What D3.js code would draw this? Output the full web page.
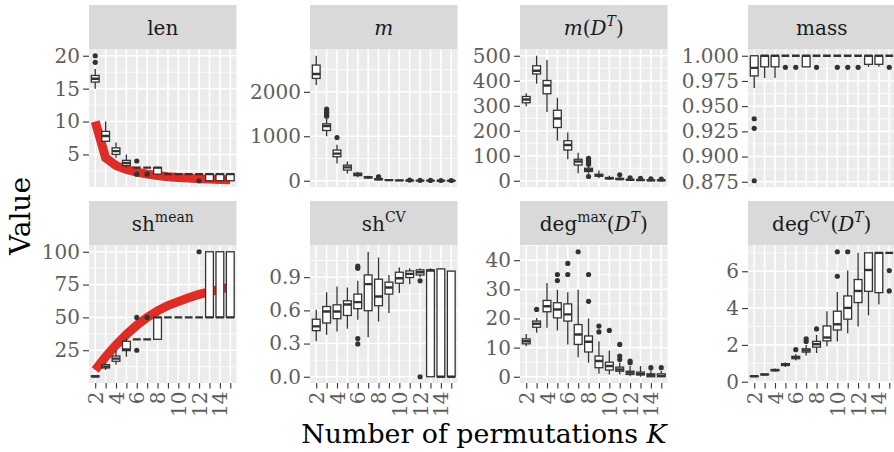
<!DOCTYPE html>
<html>
<head>
<meta charset="utf-8">
<script src="https://cdn.jsdelivr.net/npm/d3@7/dist/d3.min.js"></script>
<style>
body { margin:0; background:#fff; }
svg text { font-family: "DejaVu Serif", serif; }
</style>
</head>
<body>
<div id="chart"></div>
<script>
// categories : number of permutations K
var ks = [2,3,4,5,6,7,8,9,10,11,12,13,14,15];
var kLabels = ["2","","4","","6","","8","","10","","12","","14",""];

// boxes : [lower whisker, q1, median, q3, upper whisker] for each K
var lenBox = [[15,16,16.5,17,18],[7,7,7.8,8.5,10],[4.5,5,5.5,6,6.8],[3,3.3,3.7,4.1,5],[3,3,3,3,3],[3,3,3,3,3],[2,2,3,3,3],
	[2,2,2,2,2],[2,2,2,2,2],[2,2,2,2,2],[2,2,2,2,2],[1,1,2,2,2],[1,1,2,2,2],[1,1,2,2,2]];
var lenOut = [[2,19],[2,20],[6,4],[6,2],[7,2],[12,1]];
var lenTheory = [10,4.5,3.3,2.7,2.3,2.0,1.8,1.6,1.5,1.4,1.3,1.25,1.2,1.15];

var mBox = [[2150,2300,2400,2600,2810],[1000,1130,1230,1280,1390],[390,540,610,690,810],[165,240,300,350,430],[80,115,140,170,200],
	[45,65,75,90,110],[15,25,35,45,60],[8,12,15,18,25],[4,6,8,10,14],[2,4,5,6,9],[1,2,3,4,6],[1,1,2,3,4],[0,1,1,2,3],[0,1,1,2,3]];
var mOut = [[3,1450],[3,1480],[3,1510],[3,1540],[3,1580],[3,1610],[4,970],[8,70],[8,80],[8,90],[11,15],[12,10],[13,8],[14,6],[15,6]];

var mDTBox = [[298,312,325,337,350],[388,427,440,460,500],[275,348,381,401,483],[160,213,249,282,332],[86,123,143,160,193],
	[30,63,77,86,112],[28,37,42,50,60],[10,18,22,26,41],[4,8,10,13,20],[2,5,7,9,14],[1,3,4,5,8],[1,2,3,4,6],[0,1,2,3,5],[0,1,2,3,4]];
var mDTOut = [[8,17],[8,66],[8,74],[8,82],[8,90],[11,24],[12,12],[13,10],[14,8],[15,7]];

var massBox = [[0.968,0.980,0.988,1,1],[0.978,0.989,1,1,1],[0.978,0.989,1,1,1],[1,1,1,1,1],[1,1,1,1,1],[0.989,0.989,1,1,1],[1,1,1,1,1],
	[1,1,1,1,1],[1,1,1,1,1],[1,1,1,1,1],[1,1,1,1,1],[0.989,0.9915,1,1,1],[0.989,0.9915,1,1,1],[1,1,1,1,1]];
var massOut = [[2,0.9375],[2,0.928],[2,0.876],[5,0.9885],[6,0.9885],[8,0.9885],[10,0.9885],[11,0.9885],[12,0.9885],[15,0.9885]];

var shMeanBox = [[4.8,5,5,5.5,6],[10,11.5,12.5,14,15],[14,16.6,18.6,20.6,25],[20,24.7,25.5,31.8,33.8],[33.3,33.3,33.3,33.3,33.3],
	[33.3,33.3,33.3,33.3,33.3],[33.3,33.3,50,50,50],[50,50,50,50,50],[50,50,50,50,50],[50,50,50,50,50],[50,50,50,50,50],
	[50,50,50,100,100],[50,50,50,100,100],[50,50,50,100,100]];
var shMeanOut = [[6,50],[6,25],[7,50],[12,100]];
var shMeanTheory = [10,20,29,37,44,50,55,59,62,65,67.5,69.5,71.5,73];

var shCVBox = [[0.32,0.417,0.455,0.52,0.605],[0.38,0.486,0.59,0.635,0.765],[0.41,0.525,0.59,0.65,0.815],[0.435,0.554,0.653,0.687,0.807],
	[0.516,0.615,0.675,0.747,0.867],[0.357,0.597,0.837,0.92,1.13],[0.5,0.642,0.726,0.882,1.077],[0.576,0.747,0.807,0.855,0.92],
	[0.756,0.846,0.89,0.945,0.987],[0.837,0.897,0.93,0.957,0.98],[0.9,0.92,0.945,0.966,0.98],[0,0,0.96,0.965,0.98],
	[0,0,0,0.975,0.98],[0,0,0,0.955,0.96]];
var shCVOut = [[6,1.0],[6,0.98],[6,0.345],[6,0.297],[12,0.867],[12,0]];

var degMaxBox = [[10.5,11.3,12.2,13,14.7],[15.1,17,18.2,19.1,20.2],[16.8,22.3,24.2,26.2,32.2],[15.9,20.2,23.1,25.4,29.9],
	[11.1,19.1,21.4,25,29],[6.7,11.1,14.5,17.9,29.9],[4.8,8.5,12,14,20],[1,3.1,5.4,7.1,12.2],[0.8,2.3,3.7,5,9],
	[0.8,1.9,2.5,3.3,4.8],[0.2,0.8,1.4,1.9,3.7],[0,0.6,1,1.6,3.7],[0,0,0.5,1,2.2],[0,0,0.3,1,2]];
var degMaxOut = [[3,23.1],[5,33],[5,35.1],[6,35.1],[6,38.9],[7,42.9],[8,25.9],[8,35.1],[9,15.4],[9,17.4],[10,15.9],
	[11,5.9],[11,7.1],[11,11.1],[12,4.8],[12,5.4],[14,3.1],[15,3.1]];

var degCVBox = [[0.27,0.28,0.3,0.31,0.33],[0.36,0.38,0.39,0.41,0.43],[0.55,0.6,0.63,0.66,0.72],[0.8,0.88,0.93,0.98,1.05],
	[1.15,1.25,1.33,1.38,1.5],[1.43,1.61,1.7,1.79,2.0],[1.56,1.88,2.04,2.19,2.54],[1.92,2.22,2.4,3.03,3.83],[2.19,2.81,3.12,3.83,4.87],
	[2.63,3.4,4.01,4.66,6.04],[3.0,4.3,4.93,5.55,7.0],[3.6,4.91,6.07,7,7],[4.19,4.84,7,7,7],[7,7,7,7,7]];
var degCVOut = [[6,1.74],[7,2.19],[7,2.33],[8,2.87],[10,5.73],[10,7.06],[11,7.06],[15,6.04],[15,4.93]];

// tick labels of y axes
var lenTicks = [5,10,15,20];
var mTicks = [0,1000,2000];
var mDTTicks = [0,100,200,300,400,500];
var massTicks = [0.875,0.9,0.925,0.95,0.975,1];
var shMeanTicks = [25,50,75,100];
var shCVTicks = [0,0.3,0.6,0.9];
var degMaxTicks = [0,10,20,30,40];
var degCVTicks = [0,2,4,6];

var width = 894;
var height = 452;
var colX = [89, 310, 520, 748]; // left of each panel column
var stripTop = [5, 201];
var stripH = 44.5;
var panelW = 147.5;
var panelH = 137.5;

var panels = [
	{label:[{t:"len"}], box:lenBox, out:lenOut, line:lenTheory, ticks:lenTicks, fmt:d3.format("d")},
	{label:[{t:"m",i:1}], box:mBox, out:mOut, ticks:mTicks, fmt:d3.format("d")},
	{label:[{t:"m",i:1},{t:"("},{t:"D",i:1},{t:"T",i:1,s:1},{t:")"}], box:mDTBox, out:mDTOut, ticks:mDTTicks, fmt:d3.format("d")},
	{label:[{t:"mass"}], box:massBox, out:massOut, ticks:massTicks, fmt:d3.format(".3f")},
	{label:[{t:"sh"},{t:"mean",s:1}], box:shMeanBox, out:shMeanOut, line:shMeanTheory, ticks:shMeanTicks, fmt:d3.format("d")},
	{label:[{t:"sh"},{t:"CV",s:1}], box:shCVBox, out:shCVOut, ticks:shCVTicks, fmt:d3.format(".1f")},
	{label:[{t:"deg"},{t:"max",s:1},{t:"("},{t:"D",i:1},{t:"T",i:1,s:1},{t:")"}], box:degMaxBox, out:degMaxOut, ticks:degMaxTicks, fmt:d3.format("d")},
	{label:[{t:"deg"},{t:"CV",s:1},{t:"("},{t:"D",i:1},{t:"T",i:1,s:1},{t:")"}], box:degCVBox, out:degCVOut, ticks:degCVTicks, fmt:d3.format("d")}
];

var svg = d3.select("#chart")
	.append("svg")
	.attr("width", width)
	.attr("height", height);

svg.append("rect").attr("width", width).attr("height", height).attr("fill", "#fff");

panels.forEach(function(p, n) {
	drawPanel(p, n % 4, Math.floor(n / 4), n);
});

// axis titles
svg.append("text")
	.attr("transform", "translate(20,216) rotate(-90)")
	.attr("text-anchor", "middle")
	.attr("dy", "0.35em")
	.attr("font-size", 28)
	.attr("fill", "#000")
	.text("Value");

var xt = svg.append("text")
	.attr("x", 484)
	.attr("y", 443)
	.attr("text-anchor", "middle")
	.attr("font-size", 26.8)
	.attr("fill", "#000");
xt.append("tspan").text("Number of permutations ");
xt.append("tspan").attr("font-style", "italic").text("K");

function drawPanel(p, col, row, n) {
	var x0 = colX[col];
	var y0 = stripTop[row] + stripH;

	// strip
	svg.append("rect")
		.attr("x", x0).attr("y", stripTop[row])
		.attr("width", panelW).attr("height", stripH)
		.attr("fill", "#D9D9D9");
	var st = svg.append("text")
		.attr("x", x0 + panelW / 2)
		.attr("y", stripTop[row] + stripH / 2 + 7.5)
		.attr("text-anchor", "middle")
		.attr("font-size", 20)
		.attr("fill", "#1A1A1A");
	var up = false;
	p.label.forEach(function(seg) {
		var ts = st.append("tspan").text(seg.t);
		if (seg.i) ts.attr("font-style", "italic");
		if (seg.s) { ts.attr("font-size", 14).attr("dy", -9); up = true; }
		else if (up) { ts.attr("dy", 9); up = false; }
	});

	var x = d3.scalePoint().domain(ks).range([0, panelW]).padding(0.6);
	var all = [];
	p.box.forEach(function(b) { all = all.concat(b); });
	p.out.forEach(function(o) { all.push(o[1]); });
	if (p.line) all = all.concat(p.line);
	var lo = d3.min(all), hi = d3.max(all), pad = (hi - lo) * 0.05;
	var y = d3.scaleLinear().domain([lo - pad, hi + pad]).range([panelH, 0]);

	var g = svg.append("g").attr("transform", "translate(" + x0 + "," + y0 + ")");

	g.append("clipPath").attr("id", "clip" + n)
		.append("rect").attr("width", panelW).attr("height", panelH);

	g.append("rect").attr("width", panelW).attr("height", panelH).attr("fill", "#EBEBEB");

	// minor grid: between majors, plus one step outside if inside the range
	var step = p.ticks[1] - p.ticks[0];
	var minors = [];
	for (var i = -1; i < p.ticks.length; i++) {
		var v = p.ticks[0] + (i + 0.5) * step;
		if (v > y.domain()[0] && v < y.domain()[1]) minors.push(v);
	}
	g.selectAll(".minor")
		.data(minors)
		.enter()
		.append("line")
		.attr("x1", 0).attr("x2", panelW)
		.attr("y1", function(d) { return y(d); })
		.attr("y2", function(d) { return y(d); })
		.attr("stroke", "#fff").attr("stroke-width", 0.8);
	g.selectAll(".major")
		.data(p.ticks)
		.enter()
		.append("line")
		.attr("x1", 0).attr("x2", panelW)
		.attr("y1", function(d) { return y(d); })
		.attr("y2", function(d) { return y(d); })
		.attr("stroke", "#fff").attr("stroke-width", 1.6);
	g.selectAll(".vgrid")
		.data(ks)
		.enter()
		.append("line")
		.attr("x1", function(d) { return x(d); })
		.attr("x2", function(d) { return x(d); })
		.attr("y1", 0).attr("y2", panelH)
		.attr("stroke", "#fff").attr("stroke-width", 1.6);

	var plot = g.append("g").attr("clip-path", "url(#clip" + n + ")");

	if (p.line) {
		plot.append("path")
			.datum(p.line)
			.attr("d", d3.line()
				.x(function(d, i) { return x(ks[i]); })
				.y(function(d) { return y(d); }))
			.attr("fill", "none")
			.attr("stroke", "#DE2D26")
			.attr("stroke-width", 9);
	}

	var bw = x.step() * 0.75;
	var boxes = plot.selectAll(".box")
		.data(p.box)
		.enter()
		.append("g")
		.attr("transform", function(d, i) { return "translate(" + x(ks[i]) + ",0)"; });
	boxes.append("line")
		.attr("y1", function(d) { return y(d[4]); })
		.attr("y2", function(d) { return y(d[3]); })
		.attr("stroke", "#333").attr("stroke-width", 1.3);
	boxes.append("line")
		.attr("y1", function(d) { return y(d[1]); })
		.attr("y2", function(d) { return y(d[0]); })
		.attr("stroke", "#333").attr("stroke-width", 1.3);
	boxes.append("rect")
		.attr("x", -bw / 2)
		.attr("width", bw)
		.attr("y", function(d) { return y(d[3]); })
		.attr("height", function(d) { return y(d[1]) - y(d[3]); })
		.attr("fill", "#fff")
		.attr("stroke", "#333").attr("stroke-width", 1.3);
	boxes.append("line")
		.attr("x1", -bw / 2).attr("x2", bw / 2)
		.attr("y1", function(d) { return y(d[2]); })
		.attr("y2", function(d) { return y(d[2]); })
		.attr("stroke", "#333").attr("stroke-width", 2.4);

	plot.selectAll(".out")
		.data(p.out)
		.enter()
		.append("circle")
		.attr("cx", function(d) { return x(d[0]); })
		.attr("cy", function(d) { return y(d[1]); })
		.attr("r", 2.6)
		.attr("fill", "#333");

	// y axis
	var ay = g.append("g")
		.call(d3.axisLeft(y).tickValues(p.ticks).tickFormat(p.fmt).tickSize(6).tickPadding(3));
	ay.select(".domain").remove();
	ay.selectAll("line").attr("stroke", "#333").attr("stroke-width", 1.1);
	ay.selectAll("text")
		.attr("font-family", "DejaVu Serif")
		.attr("font-size", 20)
		.attr("fill", "#5E5E5E");
	ay.attr("font-family", null);

	// x axis, only on the bottom row
	if (row == 1) {
		var ax = g.append("g")
			.attr("transform", "translate(0," + panelH + ")")
			.call(d3.axisBottom(x).tickSize(5.5).tickFormat(function(d, i) { return kLabels[i]; }));
		ax.select(".domain").remove();
		ax.selectAll("line").attr("stroke", "#333").attr("stroke-width", 1.1);
		ax.selectAll("text")
			.attr("transform", "rotate(-90)")
			.attr("x", -8.5)
			.attr("y", 0)
			.attr("dy", "0.35em")
			.attr("text-anchor", "end")
			.attr("font-family", "DejaVu Serif")
			.attr("font-size", 20)
			.attr("fill", "#5E5E5E");
	}
}
</script>
</body>
</html>
